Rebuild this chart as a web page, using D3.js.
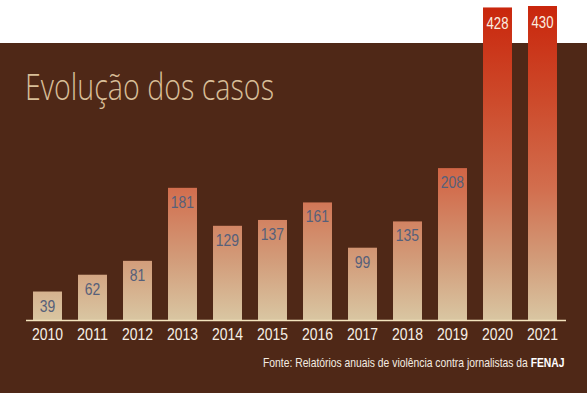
<!DOCTYPE html>
<html lang="pt">
<head>
<meta charset="UTF-8">
<title>Evolução dos casos</title>
<script src="https://cdn.jsdelivr.net/npm/d3@7/dist/d3.min.js"></script>
<style>
  html, body { margin: 0; padding: 0; background: #ffffff; }
  svg { display: block; }
</style>
</head>
<body>
<svg id="mainsvg" width="587" height="393"></svg>
<script>
    // data
    const years = ['2010','2011','2012','2013','2014','2015','2016','2017','2018','2019','2020','2021'];
    const cases = [39, 62, 81, 181, 129, 137, 161, 99, 135, 208, 428, 430];
    const title = 'Evolução dos casos';
    const sourceText = 'Fonte: Relatórios anuais de violência contra jornalistas da ';
    const sourceOrg = 'FENAJ';

    const mainsvg = d3.select('#mainsvg');
    const width = +mainsvg.attr('width');
    const height = +mainsvg.attr('height');
    const baseline = 320;
    const font = '"Liberation Sans", Arial, sans-serif';
    // narrow look: squeeze digits to ~0.456em each
    const narrowLen = (s, size) => String(s).length * 0.456 * size;

    // brown panel
    mainsvg.append('rect')
        .attr('x', 0).attr('y', 43)
        .attr('width', width).attr('height', height - 43)
        .attr('fill', '#4f2817');

    // gradient shared by all bars (absolute y)
    const grad = mainsvg.append('defs').append('linearGradient')
        .attr('id', 'barGrad')
        .attr('gradientUnits', 'userSpaceOnUse')
        .attr('x1', 0).attr('x2', 0).attr('y1', 6).attr('y2', baseline);
    [[0, '#c9260c'], [0.3, '#cd4a2b'], [0.58, '#d26e4e'], [0.8, '#d29a78'], [1, '#d9c6a2']]
        .forEach(s => grad.append('stop').attr('offset', s[0]).attr('stop-color', s[1]));

    const xScale = d3.scaleBand()
        .domain(years)
        .range([25, 565])
        .paddingInner(0.356)
        .paddingOuter(0.178);

    const yScale = d3.scaleLinear()
        .domain([0, 430])
        .range([baseline, 6]);

    // title
    mainsvg.append('text')
        .attr('x', 25).attr('y', 100)
        .attr('fill', '#d8be98')
        .attr('font-family', '"Open Sans", sans-serif')
        .attr('font-weight', 300)
        .attr('font-size', 36)
        .attr('textLength', 249)
        .attr('lengthAdjust', 'spacingAndGlyphs')
        .text(title);

    const data = years.map((y, i) => ({year: y, value: cases[i]}));

    // bars
    mainsvg.selectAll('rect.bar').data(data)
        .join('rect')
        .attr('class', 'bar')
        .attr('x', d => xScale(d.year))
        .attr('y', d => yScale(d.value))
        .attr('width', xScale.bandwidth())
        .attr('height', d => baseline - yScale(d.value))
        .attr('fill', 'url(#barGrad)');

    // value labels
    mainsvg.selectAll('text.val').data(data)
        .join('text')
        .attr('class', 'val')
        .attr('x', d => xScale(d.year) + xScale.bandwidth() / 2)
        .attr('y', d => yScale(d.value) + (d.value > 400 ? 22 : 20))
        .attr('text-anchor', 'middle')
        .attr('font-family', font)
        .attr('font-size', d => d.value > 400 ? 16 : 17)
        .attr('textLength', d => narrowLen(d.value, d.value > 400 ? 16 : 17))
        .attr('lengthAdjust', 'spacingAndGlyphs')
        .attr('fill', d => d.value > 400 ? '#fbefe0' : '#56607a')
        .text(d => d.value);

    // axis
    const xAxis = mainsvg.append('g')
        .attr('transform', `translate(0, ${baseline})`)
        .call(d3.axisBottom(xScale).tickSize(0).tickPadding(8));
    xAxis.select('.domain')
        .attr('d', 'M26,0.5H566')
        .attr('stroke', '#f3e3bd')
        .attr('stroke-width', 1.6);
    xAxis.selectAll('text')
        .attr('fill', '#f7f0e6')
        .attr('font-family', font)
        .attr('font-size', 17)
        .attr('textLength', d => narrowLen(d, 17))
        .attr('lengthAdjust', 'spacingAndGlyphs');

    // source, squeezed horizontally to the narrow width of the original
    const srcG = mainsvg.append('g');
    const src = srcG.append('text')
        .attr('x', 0).attr('y', 0)
        .attr('fill', '#f4ece2')
        .attr('font-family', font)
        .attr('font-size', 12);
    src.append('tspan').text(sourceText);
    src.append('tspan').attr('font-weight', 'bold').attr('fill', '#ffffff').text(sourceOrg);
    const natural = src.node().getComputedTextLength();
    srcG.attr('transform', `translate(263, 367) scale(${302 / natural}, 1)`);
</script>
</body>
</html>
